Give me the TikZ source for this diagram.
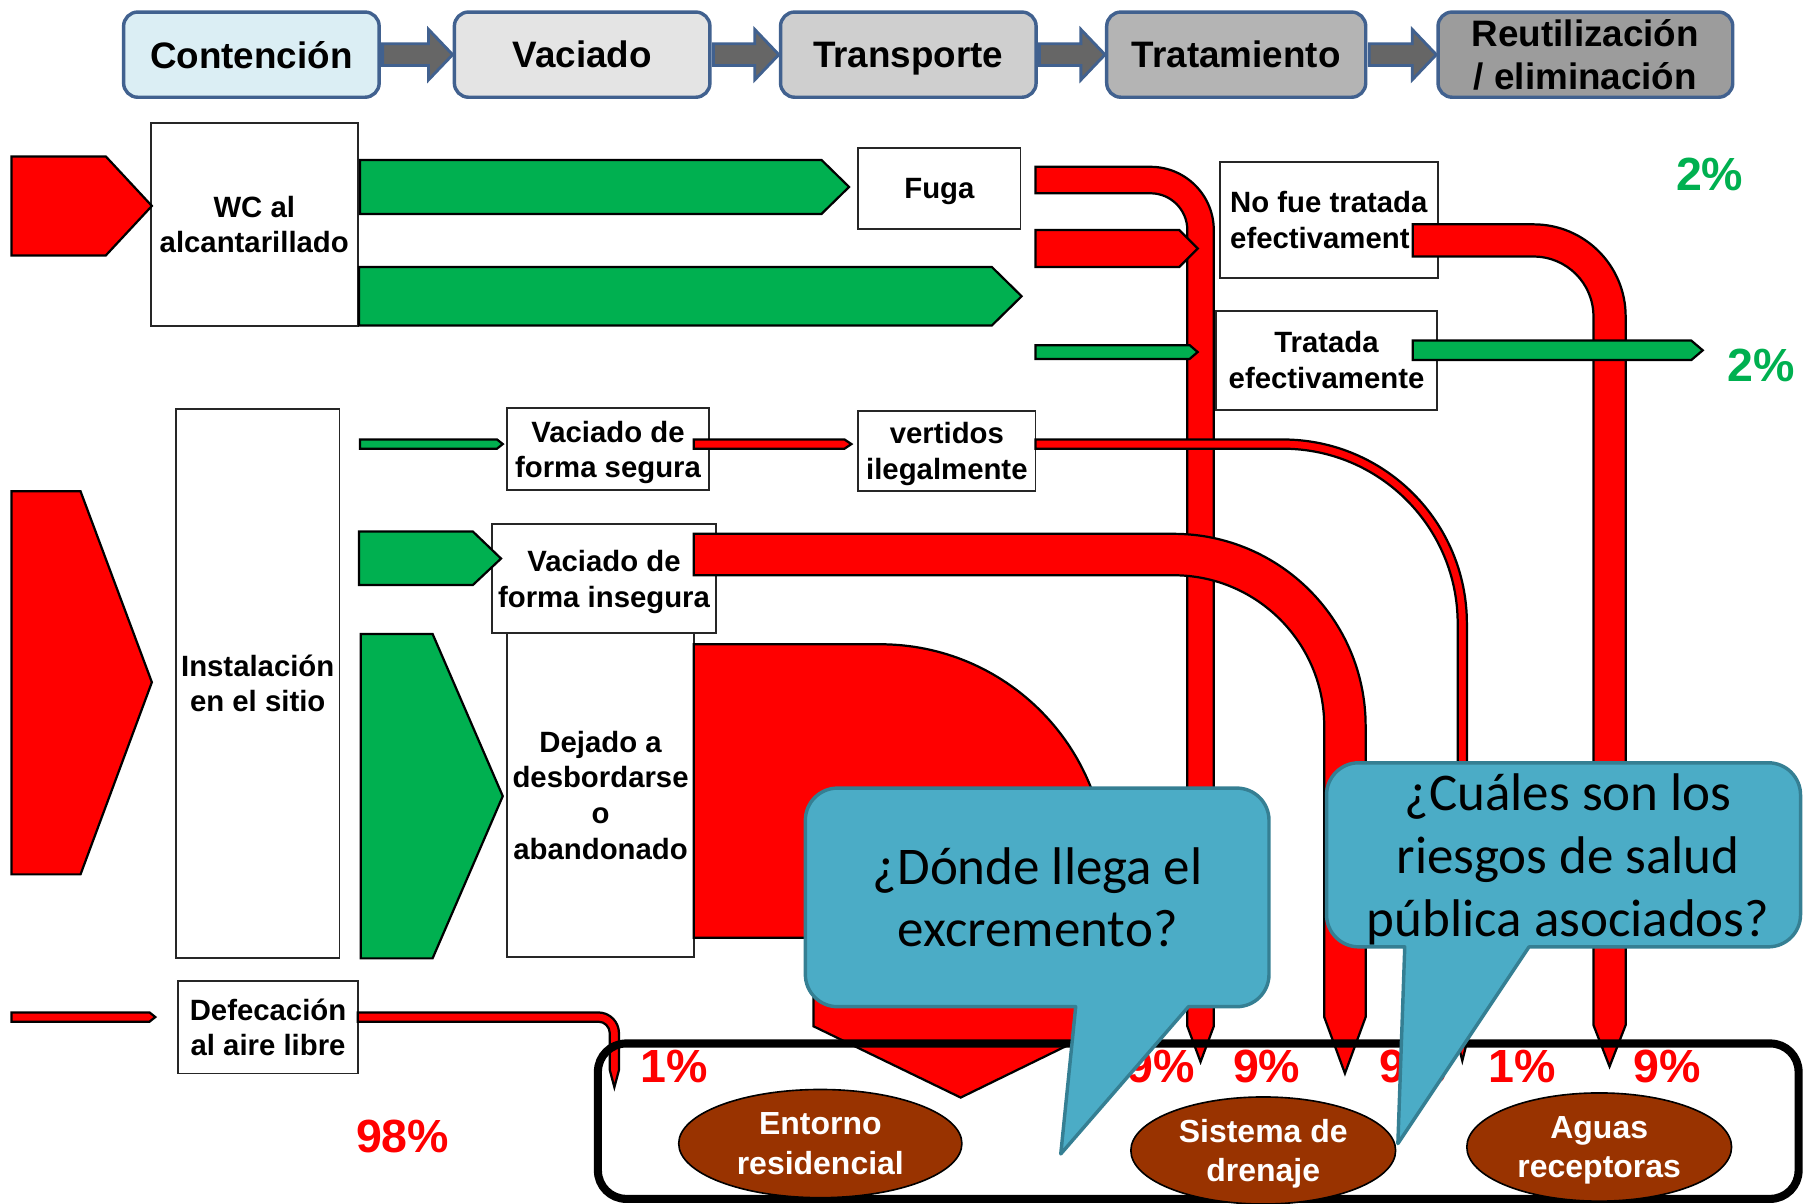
\documentclass[tikz,border=0pt]{standalone}
\usepackage{fontspec}
\setmainfont{Liberation Sans}
\newfontfamily\bubblefont{Carlito}
\usetikzlibrary{calc,shapes.geometric}

\begin{document}
\begin{tikzpicture}[x=0.01cm, y=-0.01cm,
    stage/.style={draw=stageBorder, line width=0.85pt, rounded corners=3.5pt,
        minimum width=2.22cm, minimum height=0.74cm, inner sep=0pt, align=center,
        text depth=0pt, font=\bfseries\fontsize{9.1}{10.8}\selectfont},
    stagearrow/.style={fill=arrowGrey, draw=stageBorder, line width=0.7pt},
    box/.style={draw=black!85, fill=white, line width=0.45pt, inner sep=0pt,
        align=center, text depth=0pt, font=\bfseries\fontsize{7.25}{8.8}\selectfont},
    redflow/.style={fill=flowRed, draw=black, line width=0.55pt},
    greenflow/.style={fill=flowGreen, draw=black, line width=0.55pt},
    share/.style={font=\bfseries\fontsize{11.5}{13}\selectfont, text=flowRed, inner sep=0pt},
    place/.style={ellipse, draw=black, line width=0.4pt, fill=placeBrown, text=white,
        inner sep=0pt, align=center, text depth=0pt, font=\bfseries\fontsize{7.9}{9.7}\selectfont},
    bubble/.style={fill=bubbleFill, draw=bubbleBorder, line width=0.85pt, line join=round},
    question/.style={font=\bubblefont\fontsize{13.1}{15.5}\selectfont, align=center, inner sep=0pt}]

    \definecolor{stageBorder}{HTML}{41618F}
    \definecolor{arrowGrey}{HTML}{666666}
    \definecolor{stageA}{HTML}{DBEEF4}
    \definecolor{stageB}{HTML}{E4E4E4}
    \definecolor{stageC}{HTML}{CFCFCF}
    \definecolor{stageD}{HTML}{B4B4B4}
    \definecolor{stageE}{HTML}{9C9C9C}
    \definecolor{flowRed}{HTML}{FF0000}
    \definecolor{flowGreen}{HTML}{00B050}
    \definecolor{placeBrown}{HTML}{993300}
    \definecolor{bubbleFill}{HTML}{4BACC6}
    \definecolor{bubbleBorder}{HTML}{357F93}

    \useasboundingbox (0,0) rectangle (1568,1046);

    % Stages along the top
    \node[stage, fill=stageA] (cont) at (218.5,47.5) {Contención};
    \node[stage, fill=stageB] (vac) at (506,47.5) {Vaciado};
    \node[stage, fill=stageC] (trans) at (789.5,47.5) {Transporte};
    \node[stage, fill=stageD, minimum width=2.25cm] (trat) at (1074.5,47.5) {Tratamiento};
    \node[stage, fill=stageE, minimum width=2.56cm] (reu) at (1378,47.5) {Reutilización\\/ eliminación};

    \foreach \a/\b in {cont/vac, vac/trans, trans/trat, trat/reu}
        \draw[stagearrow] ($(\a.east)+(1.5,-9.5)$) -- ($(\b.west)+(-21,-9.5)$) -- ($(\b.west)+(-21,-22)$)
            -- (\b.west) -- ($(\b.west)+(-21,22)$) -- ($(\b.west)+(-21,9.5)$) -- ($(\a.east)+(1.5,9.5)$) -- cycle;

    % Boxes
    \node[box, minimum width=1.80cm, minimum height=1.76cm] (wc) at (221,195) {WC al\\alcantarillado};
    \node[box, minimum width=1.41cm, minimum height=0.70cm] (fuga) at (816.5,164) {Fuga};
    \node[box, minimum width=1.89cm, minimum height=1.01cm, align=left] (nofue) at (1155,191) {No fue tratada\\efectivament};
    \node[box, minimum width=1.92cm, minimum height=0.86cm] (tratada) at (1153,313) {Tratada\\efectivamente};
    \node[box, minimum width=1.42cm, minimum height=4.77cm] (inst) at (224,594) {Instalación\\en el sitio};
    \node[box, minimum width=1.75cm, minimum height=0.71cm] (segura) at (528.5,390.5) {Vaciado de\\forma segura};
    \node[box, minimum width=1.54cm, minimum height=0.70cm] (vertidos) at (823,392) {vertidos\\ilegalmente};
    \node[box, minimum width=1.95cm, minimum height=0.95cm] (insegura) at (525,503) {Vaciado de\\forma insegura};
    \node[box, minimum width=1.62cm, minimum height=2.82cm] (dejado) at (522,691) {Dejado a\\desbordarse\\o\\abandonado};
    \node[box, minimum width=1.56cm, minimum height=0.80cm] (defec) at (233,893) {Defecación\\al aire libre};

    % Flows coming in
    \draw[redflow] (10,136) -- (92,136) -- (132,179) -- (92,222) -- (10,222) -- cycle;
    \draw[redflow] (10,427) -- (70,427) -- (132,593) -- (70,760) -- (10,760) -- cycle;
    \draw[redflow] (10,880) -- (130,880) -- (135,884) -- (130,888) -- (10,888) -- cycle;

    % Flows from the WC
    \draw[greenflow] (313,139) -- (714,139) -- (738,162.5) -- (714,186) -- (313,186) -- cycle;
    \draw[greenflow] (312,232) -- (862,232) -- (888,257.5) -- (862,283) -- (312,283) -- cycle;

    % Leak down to the drains
    \draw[redflow] (900,145) -- (1000,145) arc(-90:0:55) -- (1055,892) -- (1043.5,923)
        -- (1032,892) -- (1032,200) arc(0:-90:32) -- (900,168) -- cycle;
    \draw[redflow] (900,200) -- (1025,200) -- (1041,216) -- (1025,232) -- (900,232) -- cycle;
    \draw[greenflow] (900,300) -- (1034,300) -- (1041,306) -- (1034,312) -- (900,312) -- cycle;

    % Treatment
    \draw[redflow] (1228,195) -- (1333,195) arc(-90:0:80) -- (1413,891) -- (1399,927)
        -- (1385,891) -- (1385,275) arc(0:-90:52) -- (1228,223) -- cycle;
    \draw[greenflow] (1228,296) -- (1470,296) -- (1480,304.5) -- (1470,313) -- (1228,313) -- cycle;

    % On-site emptying
    \draw[greenflow] (313,382) -- (432,382) -- (437,386) -- (432,390) -- (313,390) -- cycle;
    \draw[redflow] (603,382) -- (734,382) -- (740,386) -- (734,390) -- (603,390) -- cycle;
    \draw[redflow] (900,382) -- (1115,382) arc(-90:0:160) -- (1275,906) -- (1271,922)
        -- (1267,906) -- (1267,542) arc(0:-90:152) -- (900,390) -- cycle;
    \draw[greenflow] (312,462) -- (411,462) -- (435.5,485.5) -- (411,508.5) -- (312,508.5) -- cycle;
    \draw[redflow] (603,464) -- (1020,464) arc(-90:0:167) -- (1187,884) -- (1169,933)
        -- (1151,884) -- (1151,631) arc(0:-90:131) -- (603,500) -- cycle;
    \draw[greenflow] (313.5,551) -- (376,551) -- (437,692) -- (376,833) -- (313.5,833) -- cycle;
    \draw[redflow] (603,560) -- (765,560) arc(-90:0:197) -- (962,892) -- (835,954)
        -- (707,892) -- (707,815) -- (603,815) -- cycle;

    % Open defecation
    \draw[redflow] (311,880) -- (520,880) arc(-90:0:18) -- (538,930) -- (534,945)
        -- (530,930) -- (530,898) arc(0:-90:10) -- (311,888) -- cycle;

    % Where it ends up
    \node[draw=black, line width=2pt, rounded corners=7pt, minimum width=10.43cm,
        minimum height=1.35cm] (dest) at (1041.5,974.5) {};
    \node[place, minimum width=2.46cm, minimum height=0.94cm] (ent) at (713,994) {Entorno\\residencial};
    \node[place, minimum width=2.30cm, minimum height=0.93cm] (dren) at (1098,1000) {Sistema de\\drenaje};
    \node[place, minimum width=2.30cm, minimum height=0.94cm] (agua) at (1390,997) {Aguas\\receptoras};

    \node[share] (p98) at (350,988) {98\%};
    \node[share] (pA) at (586,927) {1\%};
    \node[share] (pB) at (1009,927) {9\%};
    \node[share] (pC) at (1101,927) {9\%};
    \node[share] (pD) at (1228,927) {9\%};
    \node[share] (pE) at (1323,927) {1\%};
    \node[share] (pF) at (1449,927) {9\%};
    \node[share, text=flowGreen] (pG) at (1486,152) {2\%};
    \node[share, text=flowGreen] (pH) at (1531,318) {2\%};

    % Speech bubbles
    \draw[bubble] (728,685) -- (1075,685) arc(-90:0:28) -- (1103,847) arc(0:90:28) -- (1033,875)
        -- (922,1003) -- (935,875) -- (728,875) arc(90:180:28) -- (700,713) arc(180:270:28) -- cycle;
    \node[question] (q1) at (902,780) {¿Dónde llega el\\excremento?};

    \draw[bubble] (1181,663) -- (1537,663) arc(-90:0:28) -- (1565,795) arc(0:90:28) -- (1329,823)
        -- (1215,994) -- (1221,823) -- (1181,823) arc(90:180:28) -- (1153,691) arc(180:270:28) -- cycle;
    \node[question] (q2) at (1363,747) {¿Cuáles son los\\riesgos de salud\\pública asociados?};

\end{tikzpicture}
\end{document}
